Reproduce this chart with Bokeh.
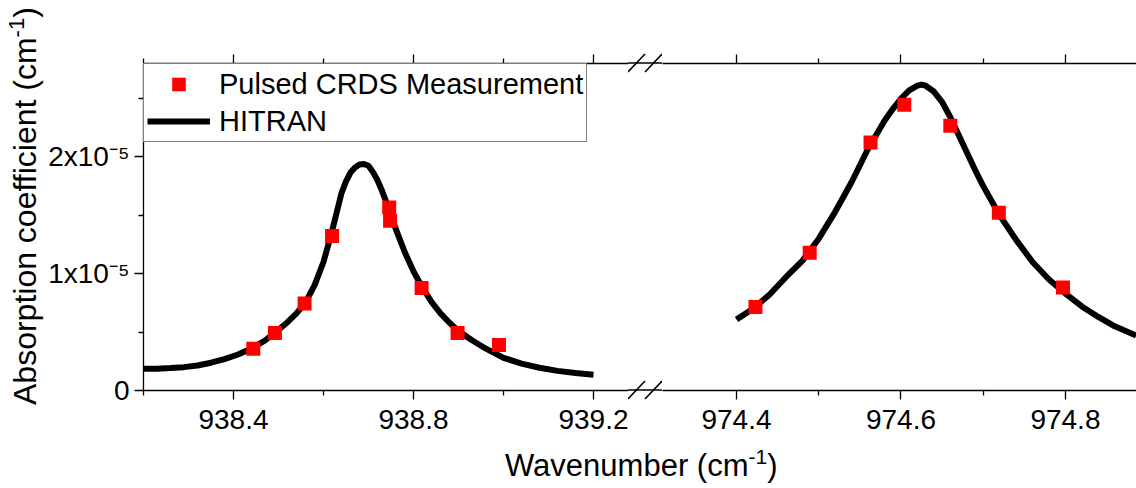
from bokeh.plotting import figure
from bokeh.models import (Range1d, LinearAxis, FixedTicker, Div, Legend, LegendItem,
                          CustomJSTickFormatter)
from bokeh.layouts import row, column
from bokeh.embed import file_html
from bokeh.resources import INLINE

FONT = "Liberation Sans"

# ---------------- data ----------------
# Pulsed CRDS measurement, first line (wavenumber cm-1, absorption coefficient cm-1)
meas_left_x = [938.444, 938.492, 938.558, 938.619, 938.746, 938.748, 938.818, 938.898, 938.990]
meas_left_y = [0.358e-5, 0.492e-5, 0.744e-5, 1.322e-5, 1.568e-5, 1.453e-5, 0.878e-5, 0.492e-5, 0.389e-5]
# Pulsed CRDS measurement, second line
meas_right_x = [974.423, 974.489, 974.563, 974.604, 974.660, 974.719, 974.797]
meas_right_y = [0.715e-5, 1.179e-5, 2.123e-5, 2.446e-5, 2.266e-5, 1.522e-5, 0.881e-5]

# HITRAN simulation, first line
hitran_left_x = [938.20, 938.23, 938.26, 938.29, 938.32, 938.35, 938.38, 938.41, 938.44, 938.47,
                 938.50, 938.52, 938.54, 938.56, 938.58, 938.60, 938.62, 938.64, 938.65, 938.66,
                 938.67, 938.68, 938.69, 938.70, 938.71, 938.72, 938.73, 938.74, 938.75, 938.76,
                 938.77, 938.78, 938.80, 938.82, 938.84, 938.86, 938.88, 938.90, 938.93, 938.96,
                 939.00, 939.04, 939.08, 939.12, 939.16, 939.20]
hitran_left_y = [0.186e-5, 0.186e-5, 0.192e-5, 0.200e-5, 0.214e-5, 0.238e-5, 0.268e-5, 0.308e-5, 0.360e-5, 0.428e-5,
                 0.520e-5, 0.585e-5, 0.660e-5, 0.755e-5, 0.900e-5, 1.100e-5, 1.380e-5, 1.690e-5, 1.790e-5, 1.866e-5,
                 1.910e-5, 1.935e-5, 1.940e-5, 1.925e-5, 1.870e-5, 1.800e-5, 1.710e-5, 1.610e-5, 1.500e-5, 1.390e-5,
                 1.290e-5, 1.190e-5, 1.020e-5, 0.880e-5, 0.758e-5, 0.660e-5, 0.580e-5, 0.510e-5, 0.430e-5, 0.360e-5,
                 0.280e-5, 0.230e-5, 0.195e-5, 0.168e-5, 0.150e-5, 0.135e-5]
# HITRAN simulation, second line
hitran_right_x = [974.40, 974.42, 974.44, 974.46, 974.48, 974.50, 974.52, 974.54, 974.56, 974.58,
                  974.59, 974.60, 974.61, 974.62, 974.625, 974.63, 974.64, 974.65, 974.66, 974.67,
                  974.68, 974.69, 974.70, 974.72, 974.74, 974.76, 974.78, 974.80, 974.82, 974.84,
                  974.86, 974.886]
hitran_right_y = [0.607e-5, 0.700e-5, 0.820e-5, 0.970e-5, 1.110e-5, 1.300e-5, 1.530e-5, 1.785e-5, 2.070e-5, 2.310e-5,
                  2.410e-5, 2.500e-5, 2.570e-5, 2.610e-5, 2.620e-5, 2.610e-5, 2.560e-5, 2.470e-5, 2.340e-5, 2.190e-5,
                  2.040e-5, 1.890e-5, 1.750e-5, 1.500e-5, 1.290e-5, 1.100e-5, 0.950e-5, 0.830e-5, 0.720e-5, 0.630e-5,
                  0.550e-5, 0.470e-5]

# axes
y_limits = (0, 2.8e-5)
y_major = [0, 1e-5, 2e-5]
y_minor = [0.5e-5, 1.5e-5, 2.5e-5]
y_tick_labels = ["0", "1x10\u207b\u2075", "2x10\u207b\u2075"]

left_limits = (938.2, 939.2778)
left_major = [938.4, 938.8, 939.2]
left_minor = [938.2, 938.6, 939.0]
right_limits = (974.31, 974.8864)
right_major = [974.4, 974.6, 974.8]
right_minor = [974.5, 974.7, 974.9]

legend_labels = ["Pulsed CRDS Measurement", "HITRAN"]
x_title = "Wavenumber (cm<sup style=\"font-size:21px;line-height:0;vertical-align:0.55em\">-1</sup>)"
y_title = "Absorption coefficient (cm<sup style=\"font-size:22px;line-height:0;vertical-align:0.55em\">-1</sup>)"

# ---------------- layout constants ----------------
TOP, FRAME_H, BOTTOM = 63, 327, 50
H = TOP + FRAME_H + BOTTOM
YDIV_W = 44
W1 = 628 - YDIV_W  # left panel, frame from 143 to 628
BRK_W = 34         # axis-break strip, 628 to 662
W2 = 474           # right panel, frame from 662 to 1136

yr = Range1d(*y_limits)


def style_axis(ax, labels=True):
    ax.axis_line_color = "black"
    ax.axis_line_width = 1.3
    ax.major_tick_line_color = "black"
    ax.major_tick_line_width = 1.3
    ax.minor_tick_line_color = "black"
    ax.minor_tick_line_width = 1.3
    ax.major_tick_in = 0
    ax.major_tick_out = 9
    ax.minor_tick_in = 0
    ax.minor_tick_out = 5
    ax.major_label_text_font = FONT
    ax.major_label_text_font_size = "28px"
    ax.major_label_text_color = "black"
    ax.major_label_standoff = 10
    if not labels:
        ax.formatter = CustomJSTickFormatter(code="return ''")


def make_fig(limits, width, left_border, major, minor):
    p = figure(width=width, height=H, x_range=Range1d(*limits), y_range=yr,
               output_backend="svg", toolbar_location=None,
               x_axis_location=None, y_axis_location=None,
               min_border_left=left_border, min_border_right=0,
               min_border_top=TOP, min_border_bottom=BOTTOM)
    p.outline_line_color = None
    p.grid.visible = False
    p.background_fill_color = "white"
    p.border_fill_color = "white"
    bottom = LinearAxis(ticker=FixedTicker(ticks=major, minor_ticks=minor))
    style_axis(bottom)
    p.add_layout(bottom, "below")
    top = LinearAxis(ticker=FixedTicker(ticks=major, minor_ticks=minor))
    style_axis(top, labels=False)
    p.add_layout(top, "above")
    return p


p1 = make_fig(left_limits, W1, 143 - YDIV_W, left_major, left_minor)
p2 = make_fig(right_limits, W2, 0, right_major, right_minor)

yax = LinearAxis(ticker=FixedTicker(ticks=y_major, minor_ticks=y_minor))
style_axis(yax)
yax.major_label_standoff = 5
yax.formatter = CustomJSTickFormatter(args=dict(labels=y_tick_labels), code="return labels[index]")
p1.add_layout(yax, "left")

# data renderers
l1 = p1.line(hitran_left_x, hitran_left_y, line_color="black", line_width=6)
s1 = p1.scatter(meas_left_x, meas_left_y, marker="square", size=14, fill_color="#FF0000", line_color=None)
p2.line(hitran_right_x, hitran_right_y, line_color="black", line_width=6)
p2.scatter(meas_right_x, meas_right_y, marker="square", size=14, fill_color="#FF0000", line_color=None)

legend = Legend(items=[LegendItem(label=legend_labels[0], renderers=[s1]),
                       LegendItem(label=legend_labels[1], renderers=[l1])],
                location="top_left", margin=0, padding=3, spacing=3,
                label_text_font=FONT, label_text_font_size="29px", label_text_color="black",
                label_height=34, glyph_height=34, glyph_width=63, label_standoff=9,
                border_line_color="black", border_line_width=1,
                background_fill_color="white", background_fill_alpha=1)
p1.add_layout(legend)

# y axis title (rotated, with superscript)
ydiv = Div(width=YDIV_W, height=H, margin=0,
           text=('<div style="display:inline-block;white-space:nowrap;transform-origin:0 0;'
                 'transform:translate(7px,405px) rotate(-90deg);font-family:\'Liberation Sans\';'
                 'font-size:32px;line-height:36px;color:black">' + y_title + '</div>'))

# axis-break strip: continues the frame lines and draws the // marks
brk_svg = (
    f'<svg width="{BRK_W}" height="{H}" xmlns="http://www.w3.org/2000/svg" style="display:block">'
    f'<g stroke="black" stroke-width="1.3" fill="none">'
    f'<line x1="0" y1="{TOP}" x2="{BRK_W}" y2="{TOP}"/>'
    f'<line x1="0" y1="{TOP + FRAME_H}" x2="{BRK_W}" y2="{TOP + FRAME_H}"/>'
    f'</g><g stroke="black" stroke-width="1.6" fill="none">'
    f'<line x1="0" y1="{TOP + 9}" x2="17" y2="{TOP - 9}"/>'
    f'<line x1="17" y1="{TOP + 9}" x2="34" y2="{TOP - 9}"/>'
    f'<line x1="0" y1="{TOP + FRAME_H + 9}" x2="17" y2="{TOP + FRAME_H - 9}"/>'
    f'<line x1="17" y1="{TOP + FRAME_H + 9}" x2="34" y2="{TOP + FRAME_H - 9}"/>'
    f'</g></svg>')
brk = Div(width=BRK_W, height=H, margin=0, text=brk_svg)

xlabel = Div(text=('<div style="font-family:\'Liberation Sans\';font-size:31px;line-height:36px;'
                   'padding-top:8px;color:black;white-space:nowrap">' + x_title + '</div>'),
             width=400, height=40, margin=(0, 0, 0, 505))

layout = column(row(ydiv, p1, brk, p2, spacing=0), xlabel, spacing=0)

open("out.html", "w").write(file_html(layout, INLINE))
